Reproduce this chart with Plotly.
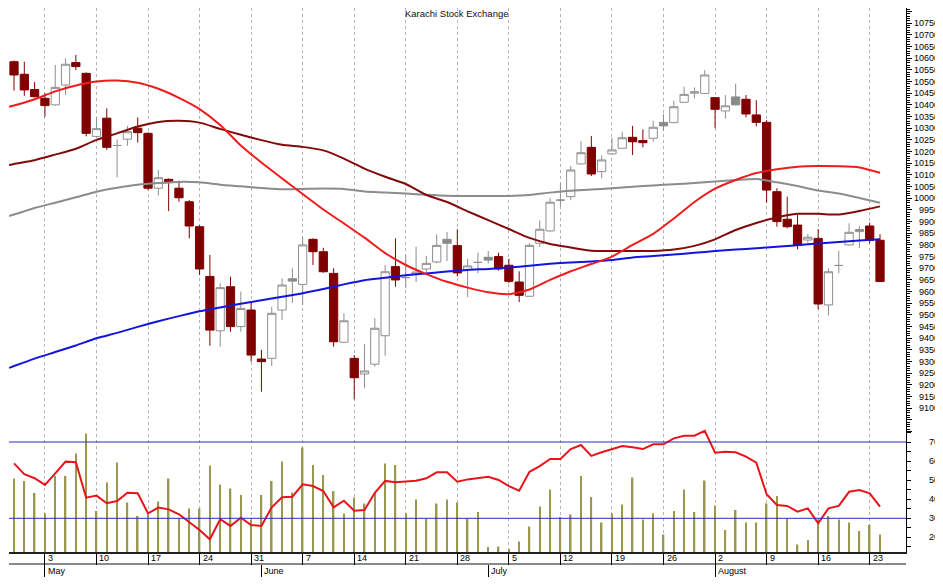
import plotly.graph_objects as go
import pandas as pd

CHART_TITLE = "Karachi Stock Exchange"
trade_dates = pd.bdate_range("2010-04-28", "2010-08-24")

opens = [10585, 10531, 10466, 10428, 10400, 10485, 10581, 10535, 10265, 10343,
         10226, 10253, 10300, 10278, 10043, 10081, 10043, 9985, 9878, 9665,
         9432, 9621, 9450, 9521, 9311, 9314, 9521, 9655, 9631, 9824,
         9771, 9678, 9383, 9314, 9247, 9289, 9411, 9707, 9660, 9675,
         9697, 9727, 9824, 9797, 9695, 9725, 9747, 9750, 9713, 9641,
         9580, 9807, 9860, 9992, 10007, 10147, 10218, 10114, 10190, 10214,
         10261, 10247, 10257, 10325, 10324, 10411, 10450, 10449, 10431, 10374,
         10434, 10424, 10357, 10325, 10028, 9910, 9885, 9821, 9828, 9543,
         9712, 9800, 9857, 9881, 9820]
highs = [10590, 10585, 10498, 10450, 10571, 10600, 10614, 10539, 10346, 10385,
         10252, 10310, 10346, 10282, 10121, 10085, 10075, 9992, 9885, 9757,
         9636, 9664, 9600, 9557, 9350, 9535, 9657, 9700, 9833, 9828,
         9788, 9700, 9507, 9328, 9375, 9486, 9714, 9828, 9757, 9792,
         9753, 9845, 9855, 9867, 9741, 9767, 9774, 9767, 9741, 9687,
         9807, 9905, 10000, 10064, 10138, 10245, 10267, 10182, 10259, 10285,
         10310, 10295, 10332, 10360, 10418, 10478, 10475, 10549, 10432, 10442,
         10491, 10442, 10420, 10335, 10043, 10007, 9928, 9847, 9868, 9700,
         9775, 9893, 9881, 9896, 9846]
lows = [10461, 10439, 10432, 10349, 10397, 10442, 10549, 10265, 10257, 10207,
        10089, 10225, 10238, 10035, 10012, 9945, 9985, 9828, 9671, 9368,
        9364, 9428, 9428, 9300, 9171, 9281, 9478, 9552, 9543, 9714,
        9681, 9364, 9382, 9139, 9186, 9278, 9325, 9621, 9614, 9641,
        9671, 9721, 9731, 9665, 9576, 9678, 9721, 9690, 9637, 9555,
        9579, 9791, 9857, 9964, 9992, 10145, 10095, 10085, 10187, 10213,
        10185, 10218, 10242, 10289, 10322, 10410, 10428, 10447, 10300, 10341,
        10398, 10347, 10308, 9981, 9878, 9871, 9781, 9810, 9525, 9498,
        9678, 9798, 9786, 9807, 9642]
closes = [10528, 10464, 10435, 10397, 10475, 10574, 10564, 10278, 10298, 10218,
          10226, 10285, 10281, 10043, 10088, 10067, 10002, 9881, 9697, 9435,
          9617, 9450, 9528, 9328, 9300, 9507, 9628, 9645, 9800, 9771,
          9685, 9385, 9475, 9231, 9260, 9443, 9685, 9650, 9660, 9684,
          9721, 9798, 9807, 9680, 9710, 9725, 9735, 9697, 9644, 9584,
          9798, 9867, 9983, 9992, 10121, 10195, 10104, 10164, 10207, 10259,
          10242, 10238, 10304, 10310, 10392, 10445, 10456, 10528, 10381, 10396,
          10400, 10361, 10325, 10035, 9900, 9878, 9800, 9833, 9547, 9685,
          9712, 9854, 9866, 9820, 9643]

volume_mln = [147, 142, 118, 77, 152, 152, 197, 237, 82, 139,
              179, 99, 72, 75, 101, 147, 67, 87, 87, 173,
              135, 127, 114, 65, 114, 142, 181, 119, 209, 174,
              154, 122, 77, 109, 97, 119, 177, 174, 77, 105,
              67, 97, 105, 99, 67, 80, 10, 11, 6, 21,
              51, 91, 125, 70, 75, 152, 110, 59, 77, 95,
              149, 65, 77, 35, 82, 125, 80, 143, 93, 44,
              84, 59, 59, 97, 112, 67, 15, 24, 65, 72,
              65, 59, 42, 54, 35]

rsi_values = [58.8, 53.1, 51.0, 47.5, 53.6, 59.7, 59.4, 40.8, 41.9, 37.9,
              39.1, 43.4, 43.1, 32.6, 35.6, 34.7, 32.1, 28.2, 23.9, 19.0,
              29.5, 26.0, 30.3, 26.5, 26.0, 35.8, 41.0, 41.3, 47.8, 46.9,
              44.3, 35.8, 39.2, 34.0, 34.4, 43.4, 49.6, 48.9, 49.2, 49.7,
              51.0, 54.1, 54.1, 49.2, 50.4, 51.2, 51.8, 50.1, 46.9, 44.5,
              54.4, 57.4, 61.1, 61.1, 66.3, 68.4, 62.7, 64.6, 66.3, 67.9,
              67.2, 66.3, 68.8, 68.8, 71.9, 73.3, 73.3, 75.8, 64.4, 64.9,
              64.6, 62.3, 59.2, 42.6, 37.0, 36.5, 33.5, 35.2, 27.4, 35.2,
              36.5, 43.9, 44.8, 43.1, 36.1]

# moving-average readings: first one at the left edge of the chart, then every 2nd day
ma_days = [-0.48] + list(range(0, 85, 2))
ma_fast = [10392, 10397, 10424, 10458, 10483, 10500, 10504, 10495, 10469, 10430, 10382,
           10314, 10226, 10153, 10085, 10018, 9952, 9892, 9831, 9765, 9714,
           9675, 9642, 9617, 9597, 9589, 9609, 9650, 9687, 9718, 9750,
           9800, 9847, 9913, 9984, 10041, 10078, 10108, 10124, 10135, 10138,
           10137, 10132, 10109]
ma_mid = [10142, 10147, 10163, 10187, 10212, 10250, 10278, 10307, 10327, 10332, 10324,
          10297, 10272, 10249, 10229, 10220, 10205, 10170, 10127, 10092, 10061,
          10014, 9984, 9944, 9906, 9868, 9830, 9804, 9789, 9775, 9774,
          9774, 9774, 9780, 9796, 9824, 9864, 9894, 9918, 9933, 9933,
          9930, 9945, 9965]
ma_slow = [9924, 9930, 9958, 9981, 10004, 10028, 10045, 10058, 10065, 10070, 10068,
           10058, 10051, 10044, 10038, 10040, 10042, 10040, 10029, 10025, 10020,
           10015, 10011, 10010, 10010, 10010, 10014, 10024, 10032, 10037, 10043,
           10049, 10055, 10060, 10065, 10072, 10078, 10082, 10068, 10052, 10033,
           10020, 10001, 9981]
ma_long = [9273, 9281, 9313, 9341, 9369, 9400, 9423, 9449, 9473, 9495, 9516,
           9532, 9548, 9563, 9578, 9593, 9611, 9631, 9649, 9659, 9670,
           9678, 9686, 9693, 9697, 9703, 9711, 9719, 9725, 9729, 9735,
           9746, 9752, 9759, 9766, 9774, 9780, 9786, 9792, 9799, 9806,
           9813, 9819, 9824]

price_ticks = list(range(9100, 10751, 50))
rsi_ticks = [20, 30, 40, 50, 60, 70]
rsi_bands = [70, 30]

# ---------------- layout geometry ----------------
# The page body has an 8px default margin, so the figure is placed at (8, 8)
# of the 943x586 window; all positions below are given in window pixels.
OX, OY = 8, 8
W, H = 943 - OX, 586 - OY
ML, MR, MT, MB = 1, 0, 0, 5
PW, PH = W - ML - MR, H - MT - MB


def fx(px):
    return (px - OX - ML) / PW


def fy(py):
    return (H - MB - (py - OY)) / PH


XDOM = [0, fx(906)]
X_RANGE = [-0.485, 86.52]
PRICE_RANGE = [8998.5, 10815]
RSI_RANGE = [12.34, 77.34]
VOL_RANGE = [0, 248]
GRID = "#b4b4b4"
FONT = "Liberation Sans, Arial, sans-serif"

n = len(trade_dates)
idx = list(range(n))
mondays = [i for i in idx if trade_dates[i].weekday() == 0]
day_text = [str(trade_dates[i].day) for i in mondays]
month_starts = [i for i in idx[1:] if trade_dates[i].month != trade_dates[i - 1].month]
month_text = [trade_dates[i].strftime("%B") for i in month_starts]


def style_of(i):
    if closes[i] >= opens[i]:
        return "hollow"
    if i > 0 and closes[i] > closes[i - 1]:
        return "grey"
    return "dark"


groups = {"hollow": [], "grey": [], "dark": []}
for i in idx:
    groups[style_of(i)].append(i)


def ohlc(sel):
    return dict(x=sel,
                open=[opens[i] for i in sel], high=[highs[i] for i in sel],
                low=[lows[i] for i in sel], close=[closes[i] for i in sel])


fig = go.Figure()
styles = {
    "hollow": dict(fillcolor="white", line=dict(color="#8f8f8f", width=1)),
    "grey": dict(fillcolor="#8a8a8a", line=dict(color="#8a8a8a", width=1)),
    "dark": dict(fillcolor="#800000", line=dict(color="#800000", width=1)),
}
for key in ["hollow", "grey", "dark"]:
    fig.add_trace(go.Candlestick(**ohlc(groups[key]), increasing=styles[key],
                                 decreasing=styles[key], whiskerwidth=0,
                                 xaxis="x", yaxis="y", showlegend=False))

for vals, color in [(ma_long, "#1414dc"), (ma_slow, "#8c8c8c"),
                    (ma_mid, "#820a0a"), (ma_fast, "#ee1c1c")]:
    fig.add_trace(go.Scatter(x=ma_days, y=vals, mode="lines", xaxis="x", yaxis="y",
                             line=dict(color=color, width=2, shape="spline", smoothing=0.6),
                             showlegend=False, hoverinfo="skip"))

fig.add_trace(go.Bar(x=idx, y=volume_mln, xaxis="x2", yaxis="y2", width=0.15,
                     marker=dict(color="#9a984e", line=dict(width=0)),
                     showlegend=False))
fig.add_trace(go.Scatter(x=idx, y=rsi_values, mode="lines", xaxis="x2", yaxis="y3",
                         line=dict(color="#e8141c", width=2), showlegend=False))
# helper empty trace so the month-tick axis is registered
fig.add_trace(go.Scatter(x=[], y=[], xaxis="x3", yaxis="y2", showlegend=False))

shapes = [dict(type="line", xref="x2 domain", x0=0, x1=1, yref="y3", y0=b, y1=b,
               line=dict(color="#2a2ad0", width=1), layer="above") for b in rsi_bands]

label_font = dict(size=9, color="black", family=FONT)
annotations = [dict(text=CHART_TITLE, xref="paper", yref="paper", x=fx(457), y=fy(13.5),
                    xanchor="center", yanchor="middle", showarrow=False,
                    font=dict(size=9.5, color="#111111", family=FONT))]
for v in price_ticks:
    annotations.append(dict(text=str(v), xref="paper", yref="y", x=fx(941), y=v,
                            xanchor="right", yanchor="middle", showarrow=False,
                            font=label_font))
for v in rsi_ticks:
    annotations.append(dict(text=str(v), xref="paper", yref="y3", x=fx(941), y=v,
                            xanchor="right", yanchor="middle", showarrow=False,
                            font=label_font))
for i, t in zip(mondays, day_text):
    annotations.append(dict(text=t, xref="x2", yref="paper", x=i, y=fy(557.5),
                            xanchor="left", yanchor="middle", xshift=1, showarrow=False,
                            font=label_font))
for i, t in zip(month_starts, month_text):
    annotations.append(dict(text=t, xref="x2", yref="paper", x=i, y=fy(570.5),
                            xanchor="left", yanchor="middle", xshift=1, showarrow=False,
                            font=label_font))

common_x = dict(domain=XDOM, range=X_RANGE, zeroline=False, fixedrange=True)

fig.update_layout(
    template="none",
    width=W, height=H,
    margin=dict(l=ML, r=MR, t=MT, b=MB, pad=0, autoexpand=False),
    paper_bgcolor="white", plot_bgcolor="white",
    font=dict(family=FONT, size=9, color="black"),
    showlegend=False,
    boxgap=0.2, boxgroupgap=0,
    xaxis=dict(**common_x, anchor="y", tickvals=mondays, showticklabels=False, ticks="",
               showgrid=True, gridcolor=GRID, griddash="dot", gridwidth=1,
               showline=False, rangeslider=dict(visible=False)),
    yaxis=dict(domain=[fy(432), fy(8)], range=PRICE_RANGE, anchor="x", side="right",
               showline=True, linecolor="black", linewidth=1, ticks="outside", ticklen=5,
               tickcolor="black", tickwidth=1, dtick=50, tick0=0, showticklabels=False,
               showgrid=False, zeroline=False, fixedrange=True,
               minor=dict(dtick=10, tick0=0, ticks="outside", ticklen=3,
                          tickcolor="black", tickwidth=1, showgrid=False)),
    xaxis2=dict(**common_x, anchor="y2", tickvals=mondays, showticklabels=False,
                ticks="outside", ticklen=11, tickcolor="black", tickwidth=1,
                showgrid=True, gridcolor=GRID, griddash="dot", gridwidth=1,
                showline=True, linecolor="#202020", linewidth=2),
    yaxis2=dict(domain=[fy(552), fy(428)], range=VOL_RANGE, anchor="x2", visible=False,
                fixedrange=True),
    yaxis3=dict(overlaying="y2", anchor="x2", side="right", range=RSI_RANGE,
                showline=True, linecolor="black", linewidth=1, ticks="outside", ticklen=4,
                tickcolor="black", dtick=5, tick0=0, showticklabels=False,
                showgrid=False, zeroline=False),
    xaxis3=dict(domain=XDOM, range=X_RANGE, overlaying="x2", anchor="free",
                position=fy(563.5), tickvals=month_starts, showticklabels=False,
                ticks="outside", ticklen=12, tickcolor="black", tickwidth=1,
                showline=True, linecolor="#8a8a8a", linewidth=2, showgrid=False,
                zeroline=False),
    shapes=shapes,
    annotations=annotations,
)

fig.write_html("out.html")
